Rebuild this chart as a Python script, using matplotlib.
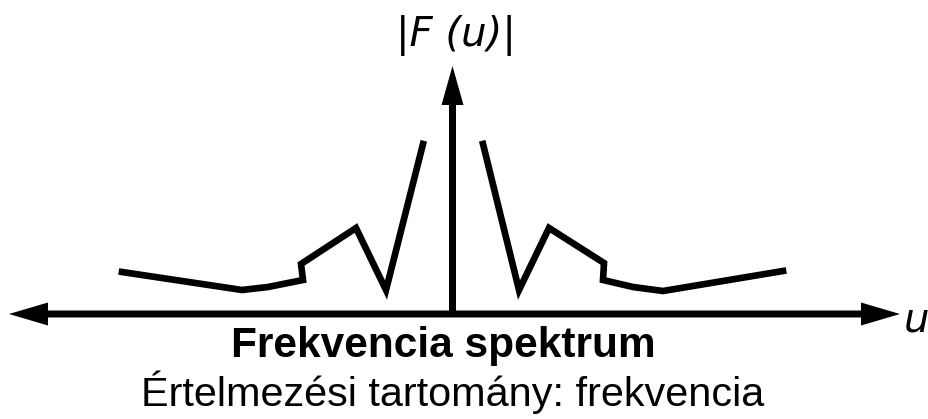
import matplotlib.pyplot as plt

# spectrum magnitude, left and right of the origin
u_left = [-3.32, -2.12, -1.86, -1.51, -1.53, -0.98, -0.68, -0.31]
F_left = [0.42, 0.24, 0.27, 0.34, 0.50, 0.86, 0.24, 1.70]
u_right = [0.29, 0.65, 0.95, 1.50, 1.49, 1.79, 2.09, 3.29]
F_right = [1.70, 0.24, 0.86, 0.51, 0.34, 0.27, 0.23, 0.43]

title = 'Frekvencia spektrum'
subtitle = 'Értelmezési tartomány: frekvencia'

fig = plt.figure(figsize=(9.29, 4.19), dpi=100)
ax = fig.add_axes([0, 0, 1, 1])
ax.set_xlim(-4.54, 4.75)
ax.set_ylim(-1.05, 3.14)
ax.axis('off')

# axes with arrow heads
ax.arrow(0, 0, 4.46, 0, width=0.07, head_width=0.23, head_length=0.39,
         length_includes_head=True, color='black', lw=0)
ax.arrow(0, 0, -4.45, 0, width=0.07, head_width=0.23, head_length=0.39,
         length_includes_head=True, color='black', lw=0)
ax.arrow(-0.015, 0, 0, 2.48, width=0.07, head_width=0.22, head_length=0.39,
         length_includes_head=True, color='black', lw=0)

ax.plot(u_left, F_left, color='black', lw=4.8, solid_joinstyle='miter')
ax.plot(u_right, F_right, color='black', lw=4.8, solid_joinstyle='miter')

ax.text(0.02, 2.79, '|F (u)|', fontsize=29, style='italic',
        family='DejaVu Sans', ha='center', va='center')
ax.text(4.62, -0.06, 'u', fontsize=29, style='italic',
        family='DejaVu Sans', ha='center', va='center')
ax.text(-0.11, -0.32, title, fontsize=30.5, fontweight='bold',
        family='Liberation Sans', ha='center', va='center')
ax.text(-0.01, -0.78, subtitle, fontsize=29.8,
        family='Liberation Sans', ha='center', va='center')

plt.savefig('out.png', dpi=100)
